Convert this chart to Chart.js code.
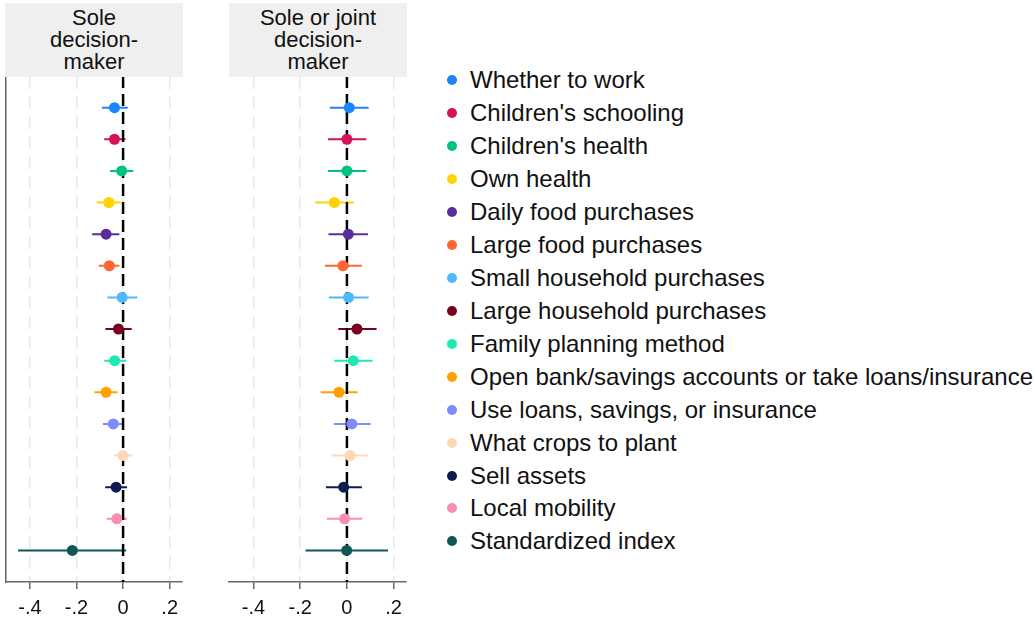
<!DOCTYPE html>
<html>
<head>
<meta charset="utf-8">
<script src="https://cdn.jsdelivr.net/npm/chart.js@4.4.1/dist/chart.umd.min.js"></script>
<style>
    body { margin: 0; background: #fff; font-family: "Liberation Sans", Arial, sans-serif; }
    #wrap { position: relative; width: 1034px; height: 620px; overflow: hidden; }
    .panel { position: absolute; top: 0; width: 200px; height: 620px; }
    .head { position: absolute; top: 3px; height: 74px; width: 178px; background: #efefef; color: #111;
            font-size: 22px; line-height: 22px; text-align: center;
            display: flex; align-items: center; justify-content: center; }
    #legend { position: absolute; left: 447px; top: 64px; }
    .item { height: 32.93px; display: flex; align-items: center; font-size: 24px; color: #111; white-space: nowrap; }
    .dot { width: 10px; height: 10px; border-radius: 50%; margin-right: 13px; flex: none; }
</style>
</head>
<body>
<div id="wrap">
    <div class="panel" style="left:0px"><canvas id="soleChart"></canvas></div>
    <div class="panel" style="left:220px"><canvas id="jointChart"></canvas></div>
    <div class="head" style="left:5px">Sole<br>decision-<br>maker</div>
    <div class="head" style="left:229px">Sole or joint<br>decision-<br>maker</div>
    <div id="legend"></div>
</div>
<script>
// categories (top to bottom)
var categories = [
    "Whether to work", "Children's schooling", "Children's health", "Own health",
    "Daily food purchases", "Large food purchases", "Small household purchases",
    "Large household purchases", "Family planning method",
    "Open bank/savings accounts or take loans/insurance",
    "Use loans, savings, or insurance", "What crops to plant", "Sell assets",
    "Local mobility", "Standardized index"
];
var colors = ['#1a85ff', '#d41159', '#00c281', '#ffd400', '#5b2c9c', '#ff6633', '#4db8ff', '#7a0020',
              '#1de9b0', '#ffa000', '#7b8cff', '#ffd7b5', '#0b1f4f', '#f78fb0', '#105656'];

// sole decision-maker
var soleEst = [-0.037, -0.037, -0.006, -0.061, -0.073, -0.059, -0.004, -0.020, -0.036, -0.073, -0.042, -0.001, -0.030, -0.027, -0.218];
var soleLo  = [-0.091, -0.081, -0.056, -0.113, -0.133, -0.104, -0.067, -0.076, -0.081, -0.123, -0.087, -0.039, -0.077, -0.070, -0.451];
var soleHi  = [0.020, 0.011, 0.044, -0.009, -0.016, -0.016, 0.061, 0.037, 0.013, -0.024, 0.001, 0.039, 0.017, 0.017, 0.013];

// sole or joint decision-maker
var jointEst = [0.010, 0.000, 0.000, -0.054, 0.006, -0.017, 0.007, 0.043, 0.027, -0.034, 0.021, 0.013, -0.014, -0.010, -0.001];
var jointLo  = [-0.073, -0.081, -0.081, -0.136, -0.079, -0.094, -0.077, -0.037, -0.054, -0.113, -0.056, -0.063, -0.090, -0.086, -0.177];
var jointHi  = [0.093, 0.083, 0.083, 0.029, 0.090, 0.064, 0.093, 0.127, 0.110, 0.046, 0.101, 0.089, 0.064, 0.066, 0.176];

// x axis ticks
var tickValues = [-0.4, -0.2, 0, 0.2];
var tickLabels = ['-.4', '-.2', '0', '.2'];

function makePanel(canvasId, est, lo, hi, showYLine, padLeft, padRight) {
    var datasets = [];

    // point estimates, drawn on top
    datasets.push({
        type: 'scatter',
        data: est.map(function (v, i) { return { x: v, y: i + 1 }; }),
        pointBackgroundColor: colors,
        pointBorderColor: colors,
        pointRadius: 5.5,
        pointBorderWidth: 0,
        order: 0
    });

    // dashed zero line
    datasets.push({
        type: 'scatter',
        showLine: true,
        data: [{ x: 0, y: 0 }, { x: 0, y: 16 }],
        borderColor: '#000',
        borderWidth: 2.5,
        borderDash: [12, 6],
        pointRadius: 0,
        order: 1
    });

    // confidence intervals
    categories.forEach(function (c, i) {
        datasets.push({
            type: 'scatter',
            showLine: true,
            data: [{ x: lo[i], y: i + 1 }, { x: hi[i], y: i + 1 }],
            borderColor: colors[i],
            borderWidth: 2,
            pointRadius: 0,
            order: 2
        });
    });

    var canvas = document.getElementById(canvasId);
    canvas.width = 200;
    canvas.height = 620;

    return new Chart(canvas, {
        type: 'scatter',
        data: { datasets: datasets },
        options: {
            responsive: false,
            animation: false,
            layout: { padding: { left: padLeft, right: padRight, top: 76, bottom: 0 } },
            plugins: { legend: { display: false }, tooltip: { enabled: false } },
            scales: {
                x: {
                    type: 'linear',
                    min: -0.505,
                    max: 0.253,
                    afterBuildTicks: function (scale) {
                        scale.ticks = tickValues.map(function (v) { return { value: v }; });
                    },
                    afterFit: function (scale) { scale.height = 38; },
                    ticks: {
                        callback: function (v) { return tickLabels[tickValues.indexOf(v)]; },
                        font: { family: '"Liberation Sans", Arial, sans-serif', size: 20 },
                        color: '#111',
                        padding: 7,
                        maxRotation: 0
                    },
                    grid: {
                        color: '#e8e8e8',
                        lineWidth: 1.5,
                        tickColor: '#666',
                        tickLength: 7,
                        tickWidth: 1.5,
                        tickBorderDash: []
                    },
                    border: { display: true, color: '#666', width: 1.5, dash: [13, 7] }
                },
                y: {
                    type: 'linear',
                    min: 0,
                    max: 16,
                    reverse: true,
                    afterFit: function (scale) { scale.width = 0; },
                    ticks: { display: false },
                    grid: { display: false },
                    border: { display: showYLine, color: '#666', width: 1.5 }
                }
            }
        }
    });
}

makePanel('soleChart', soleEst, soleLo, soleHi, true, 5, 18);
makePanel('jointChart', jointEst, jointLo, jointHi, false, 9, 14);

// legend
var legend = document.getElementById('legend');
categories.forEach(function (c, i) {
    var item = document.createElement('div');
    item.className = 'item';
    var dot = document.createElement('span');
    dot.className = 'dot';
    dot.style.background = colors[i];
    item.appendChild(dot);
    item.appendChild(document.createTextNode(c));
    legend.appendChild(item);
});
</script>
</body>
</html>
